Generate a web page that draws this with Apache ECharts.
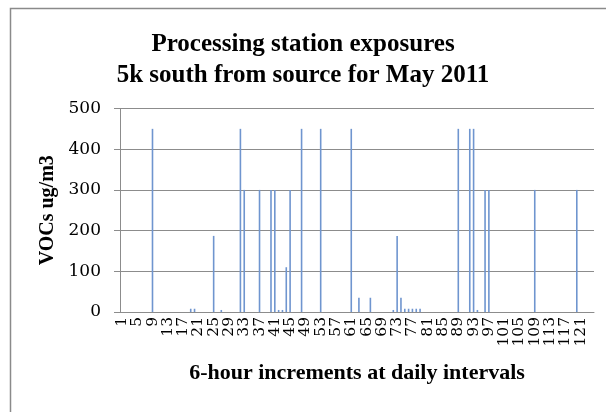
<!DOCTYPE html>
<html>
<head>
<meta charset="utf-8">
<script src="https://cdn.jsdelivr.net/npm/echarts@6/dist/echarts.min.js"></script>
<style>
html,body{margin:0;padding:0;background:#fff;}
#chart{width:606px;height:412px;}
</style>
</head>
<body>
<div id="chart"></div>
<script>
var titleText = 'Processing station exposures\n5k south from source for May 2011';
var yAxisName = 'VOCs ug/m3';
var xAxisName = '6-hour increments at daily intervals';
var categories = Array.from({length: 124}, function (_, i) { return String(i + 1); });
var labelEvery = 4;
var vocValues = [
  0,0,0,0,0,0,0,0,450,0,
  0,0,0,0,0,0,0,0,8,8,
  0,0,0,0,187,0,5,0,0,0,
  0,450,300,0,0,0,300,0,0,300,
  300,5,5,110,300,0,0,450,0,0,
  0,0,450,0,0,0,0,0,0,0,
  450,0,35,0,0,35,0,0,0,0,
  0,5,187,35,8,8,8,8,8,0,
  0,0,0,0,0,0,0,0,450,0,
  0,450,450,5,0,300,300,0,0,0,
  0,0,0,0,0,0,0,0,300,0,
  0,0,0,0,0,0,0,0,0,300,
  0,0,0,0
];
var yMin = 0, yMax = 500, yStep = 100;

var chart = echarts.init(document.getElementById('chart'));
chart.setOption({
  animation: false,
  graphic: [{
    type: 'rect', left: 8, top: 6,
    shape: {width: 640, height: 440},
    style: {fill: 'none', stroke: '#8a8a8a', lineWidth: 1.5}
  }],
  title: {
    text: titleText,
    left: 'center', top: 24,
    textStyle: {fontFamily: 'Liberation Serif', fontWeight: 'bold', fontSize: 25, lineHeight: 31, color: '#000'}
  },
  grid: {left: 120, right: 12, top: 108.5, bottom: 100},
  xAxis: {
    type: 'category',
    data: categories,
    boundaryGap: true,
    name: xAxisName,
    nameLocation: 'middle',
    nameGap: 50,
    nameTextStyle: {fontFamily: 'Liberation Serif', fontWeight: 'bold', fontSize: 22, color: '#000'},
    axisLine: {lineStyle: {color: '#8c8c8c', width: 1}},
    axisTick: {interval: labelEvery - 1, length: 5, lineStyle: {color: '#8c8c8c'}},
    axisLabel: {
      interval: 0, rotate: 90, margin: 5, showMinLabel: true, showMaxLabel: false, hideOverlap: false,
      formatter: function (v, idx) { return idx % labelEvery === 0 ? v : ''; },
      fontFamily: 'DejaVu Serif', fontSize: 15.5, lineHeight: 11, color: '#000'
    },
    splitLine: {show: false}
  },
  yAxis: {
    type: 'value',
    min: yMin, max: yMax, interval: yStep,
    name: yAxisName,
    nameLocation: 'middle',
    nameGap: 62,
    nameTextStyle: {fontFamily: 'Liberation Serif', fontWeight: 'bold', fontSize: 20, color: '#000'},
    axisLine: {show: true, lineStyle: {color: '#8c8c8c', width: 1}},
    axisTick: {show: true, length: 6, lineStyle: {color: '#8c8c8c'}},
    axisLabel: {margin: 19, fontFamily: 'DejaVu Serif', fontSize: 17, color: '#000'},
    splitLine: {lineStyle: {color: '#8c8c8c', width: 1}}
  },
  series: [{
    type: 'bar',
    data: vocValues,
    barWidth: 1.6,
    itemStyle: {color: '#6f95cf'}
  }]
});
</script>
</body>
</html>
